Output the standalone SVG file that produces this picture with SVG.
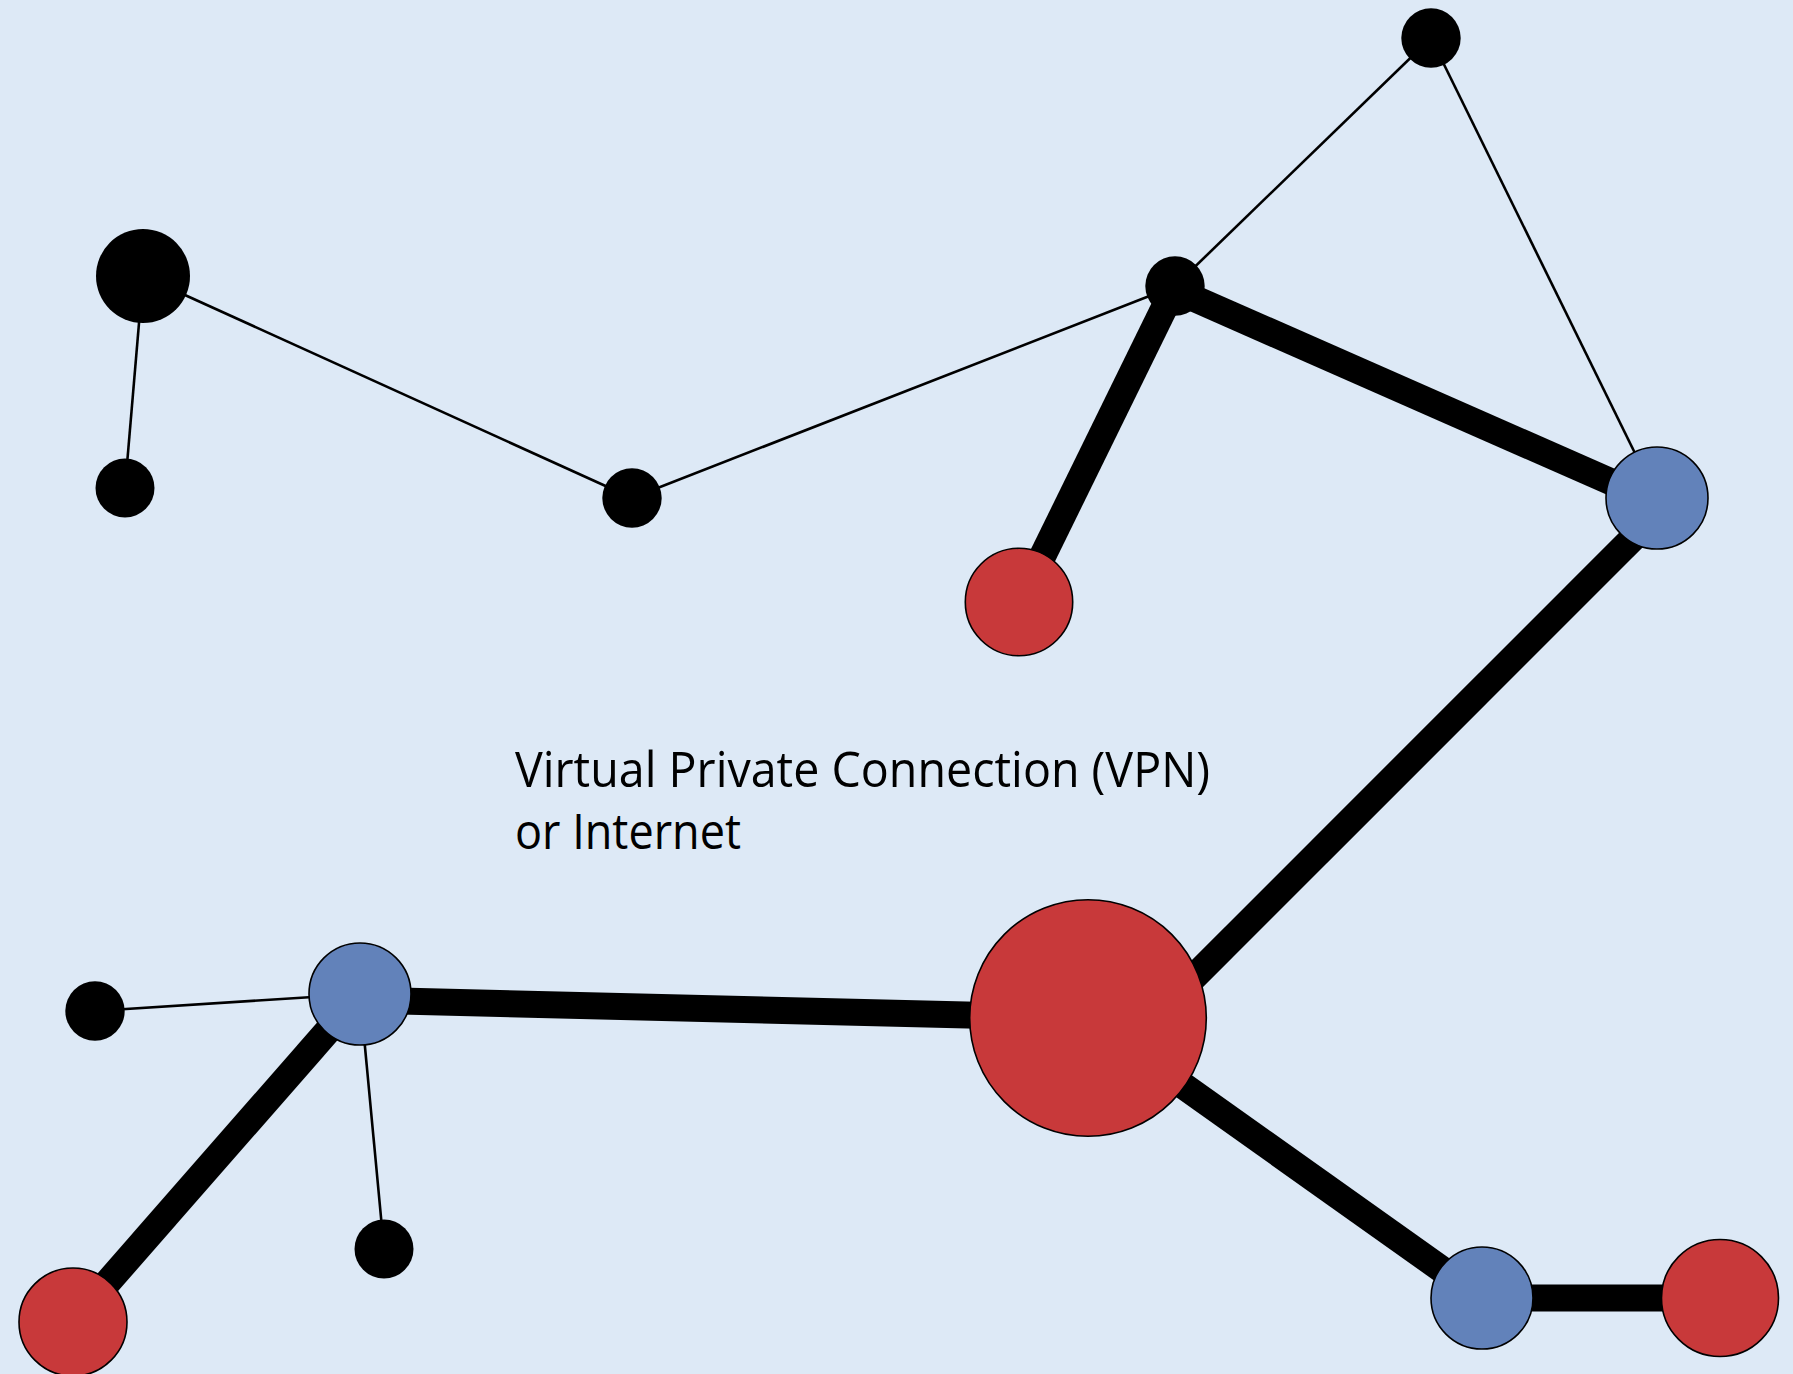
<svg xmlns="http://www.w3.org/2000/svg" width="1793" height="1374" viewBox="0 0 1793 1374">
<style>
.thin{stroke:#000;stroke-width:2.6;fill:none}
.thick{stroke:#000;stroke-width:27;fill:none}
.blk{fill:#000}
.blue{fill:#6282BA;stroke:#000;stroke-width:1.6}
.red{fill:#C8393A;stroke:#000;stroke-width:1.6}
.lbl{font-family:"Open Sans","Noto Sans",sans-serif;font-size:50px;fill:#000}
</style>
<rect x="0" y="0" width="1793" height="1374" fill="#DDE9F6"/>
<g id="connectors">
<line class="thin" x1="143" y1="276" x2="125" y2="488"/>
<line class="thin" x1="143" y1="276" x2="632" y2="498"/>
<line class="thin" x1="632" y1="498" x2="1175" y2="286"/>
<line class="thin" x1="1175" y1="286" x2="1431" y2="38"/>
<line class="thin" x1="1431" y1="38" x2="1657" y2="498"/>
<line class="thin" x1="95" y1="1011" x2="360" y2="994"/>
<line class="thin" x1="360" y1="994" x2="384" y2="1249"/>
<line class="thick" x1="1175" y1="286" x2="1022" y2="598"/>
<line class="thick" x1="1175" y1="290" x2="1657" y2="502"/>
<line class="thick" x1="1660" y1="511" x2="1140" y2="1031"/>
<line class="thick" x1="360" y1="1000" x2="1088" y2="1018"/>
<line class="thick" x1="360" y1="994" x2="73" y2="1322"/>
<line class="thick" x1="1088" y1="1018" x2="1482" y2="1298"/>
<line class="thick" x1="1482" y1="1298" x2="1720" y2="1298"/>
</g>
<g id="n1"><circle class="blk" cx="143" cy="276" r="47"/></g>
<g id="n2"><circle class="blk" cx="125" cy="488" r="29.5"/></g>
<g id="n3"><circle class="blk" cx="632" cy="498" r="29.7"/></g>
<g id="n4"><circle class="blk" cx="1175" cy="286" r="29.7"/></g>
<g id="n5"><circle class="blk" cx="1431" cy="38" r="29.7"/></g>
<g id="n6"><circle class="blue" cx="1657" cy="498" r="51"/></g>
<g id="n7"><circle class="red" cx="1019" cy="602" r="53.7"/></g>
<g id="n8"><circle class="red" cx="1088" cy="1018" r="118.3"/></g>
<g id="n9"><circle class="blue" cx="360" cy="994" r="51"/></g>
<g id="n10"><circle class="blk" cx="95" cy="1011" r="29.7"/></g>
<g id="n11"><circle class="blk" cx="384" cy="1249" r="29.5"/></g>
<g id="n12"><circle class="red" cx="73" cy="1322" r="54"/></g>
<g id="n13"><circle class="blue" cx="1482" cy="1298" r="51"/></g>
<g id="n14"><circle class="red" cx="1720" cy="1298" r="58.5"/></g>
<g id="label">
<text class="lbl" x="515" y="787" textLength="695" lengthAdjust="spacingAndGlyphs">Virtual Private Connection (VPN)</text>
<text class="lbl" x="515" y="849" textLength="226" lengthAdjust="spacingAndGlyphs">or Internet</text>
</g>
</svg>
